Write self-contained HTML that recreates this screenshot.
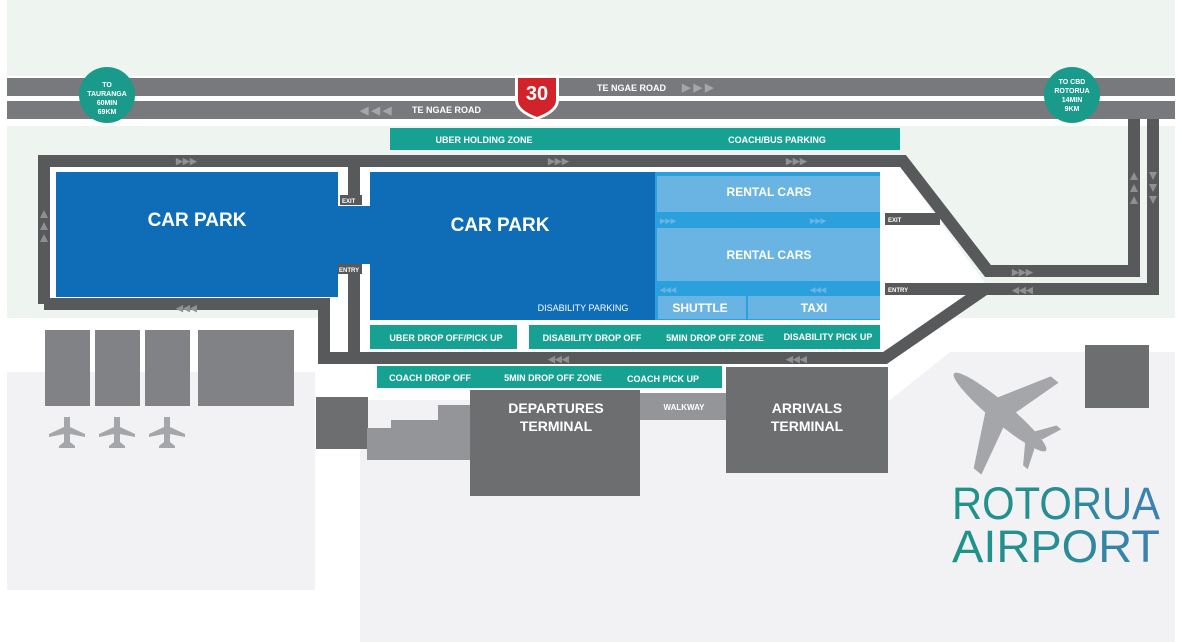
<!DOCTYPE html>
<html><head><meta charset="utf-8"><style>
html,body{margin:0;padding:0;background:#fff;}
svg{display:block;}
text{font-family:"Liberation Sans",sans-serif;font-weight:bold;}
</style></head><body>
<svg width="1180" height="642" viewBox="0 0 1180 642" xmlns="http://www.w3.org/2000/svg">
<defs>
<linearGradient id="lg" x1="0" x2="1" y1="0" y2="0">
<stop offset="0" stop-color="#1d9488"/><stop offset="0.55" stop-color="#2a8c95"/><stop offset="1" stop-color="#3f7fb5"/>
</linearGradient>
</defs>
<rect width="1180" height="642" fill="#fff"/>
<rect x="7" y="0" width="1168" height="76" fill="#eef4ef"/>
<rect x="7" y="126" width="1168" height="192" fill="#eef4ef"/>
<rect x="7" y="372" width="308" height="218" fill="#f2f2f4"/>
<rect x="360" y="400" width="815" height="242" fill="#f2f2f4"/>
<polygon points="890,400 950,352 1175,352 1175,642 890,642" fill="#f2f2f4"/>
<rect x="7" y="590" width="353" height="52" fill="#fff"/>
<polygon points="50,167 900,167 985,283 885,352 330,352 330,298 50,298" fill="#fff"/>
<polygon points="905,167 1128,167 1128,265 990,265" fill="#eef4ef"/>
<rect x="7" y="78" width="1168" height="18" fill="#77797d"/>
<rect x="7" y="101" width="1168" height="18" fill="#77797d"/>
<g fill="none" stroke="#58595b" stroke-width="12" stroke-linejoin="miter">
<path d="M44,304 L44,161 L903,161 L988,271 L1134,271 L1134,119"/>
<path d="M44,304 L324,304 L324,358 L885,358 L985,289 L1153,289 L1153,119"/>
<path d="M354,167 L354,200"/>
<path d="M354,265 L354,352"/>
<path d="M885,219 L940,219"/>
<path d="M885,289 L985,289"/>
</g>
<g font-size="9" fill="#8e9094">
<text x="176" y="164">▶▶▶</text>
<text x="548" y="164">▶▶▶</text>
<text x="786" y="164">▶▶▶</text>
<text x="176" y="311">◀◀◀</text>
<text x="548" y="362">◀◀◀</text>
<text x="786" y="362">◀◀◀</text>
<text x="1012" y="275">▶▶▶</text>
<text x="1012" y="293">◀◀◀</text>
</g>
<g fill="#8e9094">
<polygon points="44,210 40,218 48,218"/><polygon points="44,222 40,230 48,230"/><polygon points="44,234 40,242 48,242"/>
<polygon points="1134,172 1130,180 1138,180"/><polygon points="1134,184 1130,192 1138,192"/><polygon points="1134,196 1130,204 1138,204"/>
<polygon points="1153,180 1149,172 1157,172"/><polygon points="1153,192 1149,184 1157,184"/><polygon points="1153,204 1149,196 1157,196"/>
</g>
<text x="682" y="91" font-size="11" fill="#a4a6a9">▶ ▶ ▶</text>
<text x="360" y="114" font-size="11" fill="#a4a6a9">◀ ◀ ◀</text>
<rect x="56" y="172" width="282" height="125" fill="#0f6db8"/>
<rect x="338" y="206" width="32" height="58" fill="#0f6db8"/>
<rect x="370" y="172" width="285" height="148" fill="#0f6db8"/>
<rect x="655" y="172" width="225" height="148" fill="#2aa0dc"/>
<rect x="657" y="176" width="223" height="36" fill="#6ab4e4"/>
<rect x="657" y="228" width="223" height="53" fill="#6ab4e4"/>
<rect x="658" y="296" width="88" height="23" fill="#6ab4e4"/>
<rect x="748" y="296" width="132" height="23" fill="#6ab4e4"/>
<text x="197" y="226" font-size="19" fill="#fff" text-anchor="middle">CAR PARK</text>
<text x="500" y="231" font-size="19" fill="#fff" text-anchor="middle">CAR PARK</text>
<text x="583" y="311" font-size="9" fill="#fff" text-anchor="middle" style="font-weight:normal">DISABILITY PARKING</text>
<text x="769" y="196" font-size="12" fill="#fff" text-anchor="middle">RENTAL CARS</text>
<text x="769" y="259" font-size="12" fill="#fff" text-anchor="middle">RENTAL CARS</text>
<text x="700" y="312" font-size="12" fill="#fff" text-anchor="middle">SHUTTLE</text>
<text x="814" y="312" font-size="12" fill="#fff" text-anchor="middle">TAXI</text>
<text x="660" y="223" font-size="7" fill="#6ab4e4">▶▶▶</text>
<text x="810" y="223" font-size="7" fill="#6ab4e4">▶▶▶</text>
<text x="660" y="292" font-size="7" fill="#6ab4e4">◀◀◀</text>
<text x="810" y="292" font-size="7" fill="#6ab4e4">◀◀◀</text>
<rect x="340" y="195" width="22" height="10" fill="#58595b"/>
<text x="342" y="203" font-size="6" fill="#fff">EXIT</text>
<rect x="338" y="264" width="24" height="10" fill="#58595b"/>
<text x="339" y="272" font-size="6" fill="#fff">ENTRY</text>
<text x="888" y="222" font-size="6" fill="#fff">EXIT</text>
<text x="888" y="292" font-size="6" fill="#fff">ENTRY</text>
<rect x="390" y="128" width="510" height="22" fill="#17a192"/>
<text x="484" y="143" font-size="9" fill="#fff" text-anchor="middle">UBER HOLDING ZONE</text>
<text x="777" y="143" font-size="9" fill="#fff" text-anchor="middle">COACH/BUS PARKING</text>
<rect x="370" y="325" width="147" height="24" fill="#17a192"/>
<text x="446" y="341" font-size="9" fill="#fff" text-anchor="middle">UBER DROP OFF/PICK UP</text>
<rect x="529" y="325" width="351" height="24" fill="#17a192"/>
<text x="592" y="341" font-size="9" fill="#fff" text-anchor="middle">DISABILITY DROP OFF</text>
<text x="715" y="341" font-size="9" fill="#fff" text-anchor="middle">5MIN DROP OFF ZONE</text>
<text x="828" y="340" font-size="9" fill="#fff" text-anchor="middle">DISABILITY PICK UP</text>
<rect x="377" y="366" width="345" height="22" fill="#17a192"/>
<text x="430" y="381" font-size="9" fill="#fff" text-anchor="middle">COACH DROP OFF</text>
<text x="553" y="381" font-size="9" fill="#fff" text-anchor="middle">5MIN DROP OFF ZONE</text>
<text x="663" y="382" font-size="9" fill="#fff" text-anchor="middle">COACH PICK UP</text>
<rect x="45" y="330" width="45" height="76" fill="#808285"/>
<rect x="95" y="330" width="45" height="76" fill="#808285"/>
<rect x="145" y="330" width="45" height="76" fill="#808285"/>
<rect x="198" y="330" width="96" height="76" fill="#808285"/>
<rect x="316" y="397" width="52" height="52" fill="#6d6e70"/>
<polygon points="367,428 391,428 391,420 438,420 438,405 470,405 470,460 367,460" fill="#939598"/>
<rect x="470" y="390" width="170" height="106" fill="#6d6e70"/>
<rect x="640" y="393" width="86" height="27" fill="#939598"/>
<rect x="726" y="367" width="162" height="106" fill="#6d6e70"/>
<rect x="1085" y="345" width="64" height="63" fill="#6d6e70"/>
<text x="556" y="413" font-size="14" fill="#fff" text-anchor="middle">DEPARTURES</text>
<text x="556" y="431" font-size="14" fill="#fff" text-anchor="middle">TERMINAL</text>
<text x="807" y="413" font-size="14" fill="#fff" text-anchor="middle">ARRIVALS</text>
<text x="807" y="431" font-size="14" fill="#fff" text-anchor="middle">TERMINAL</text>
<text x="684" y="410" font-size="8" fill="#fff" text-anchor="middle">WALKWAY</text>
<g fill="#a4a6a9">
<path d="M64,417 h6 v10 l15,7 v3 l-15,-3 v8 l5,4 v2 h-16 v-2 l5,-4 v-8 l-15,3 v-3 l15,-7z"/>
<path d="M64,417 h6 v10 l15,7 v3 l-15,-3 v8 l5,4 v2 h-16 v-2 l5,-4 v-8 l-15,3 v-3 l15,-7z" transform="translate(50,0)"/>
<path d="M64,417 h6 v10 l15,7 v3 l-15,-3 v8 l5,4 v2 h-16 v-2 l5,-4 v-8 l-15,3 v-3 l15,-7z" transform="translate(100,0)"/>
</g>
<g fill="#a4a6a9" transform="translate(1000,412) rotate(-50)">
<ellipse cx="0" cy="0" rx="10" ry="60"/>
<polygon points="-8,-12 -60,16 -60,26 -8,12"/>
<polygon points="8,-12 60,16 60,26 8,12"/>
<polygon points="-6,38 -26,52 -26,58 -6,50"/>
<polygon points="6,38 26,52 26,58 6,50"/>
</g>
<circle cx="107" cy="95" r="28" fill="#1a9a8a"/>
<text x="107" y="87" font-size="7" fill="#fff" text-anchor="middle">TO</text>
<text x="107" y="96" font-size="7" fill="#fff" text-anchor="middle">TAURANGA</text>
<text x="107" y="105" font-size="7" fill="#fff" text-anchor="middle">60MIN</text>
<text x="107" y="114" font-size="7" fill="#fff" text-anchor="middle">69KM</text>
<circle cx="1072" cy="95" r="28" fill="#1a9a8a"/>
<text x="1072" y="84" font-size="7" fill="#fff" text-anchor="middle">TO CBD</text>
<text x="1072" y="93" font-size="7" fill="#fff" text-anchor="middle">ROTORUA</text>
<text x="1072" y="102" font-size="7" fill="#fff" text-anchor="middle">14MIN</text>
<text x="1072" y="111" font-size="7" fill="#fff" text-anchor="middle">9KM</text>
<path d="M515,75 L559,75 L559,100 Q559,112 537,120 Q515,112 515,100 Z" fill="#fff"/>
<path d="M518,78 L556,78 L556,100 Q556,110 537,117 Q518,110 518,100 Z" fill="#d2232a"/>
<text x="537" y="100" font-size="20" fill="#fff" text-anchor="middle">30</text>
<text x="597" y="91" font-size="9" fill="#fff">TE NGAE ROAD</text>
<text x="412" y="113" font-size="9" fill="#fff">TE NGAE ROAD</text>
<text x="952" y="519" font-size="45" fill="url(#lg)" style="font-weight:normal" textLength="208" lengthAdjust="spacingAndGlyphs">ROTORUA</text>
<text x="952" y="562" font-size="45" fill="url(#lg)" style="font-weight:normal" textLength="208" lengthAdjust="spacingAndGlyphs">AIRPORT</text>
</svg>
</body></html>
